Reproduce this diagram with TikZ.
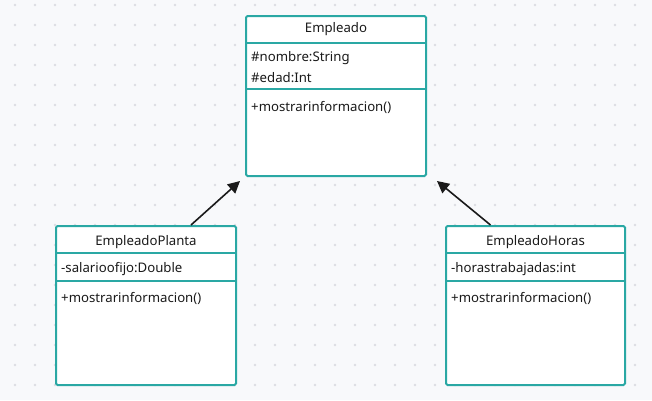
\documentclass[tikz,border=0pt]{standalone}
\usepackage{fontspec}
\setmainfont{Noto Sans}
\usetikzlibrary{calc,arrows.meta}
\definecolor{bgc}{HTML}{F8F9FB}
\definecolor{dotc}{HTML}{DCDDE2}
\definecolor{teal}{HTML}{2AA8A4}
\definecolor{ink}{HTML}{1A1A1A}
\tikzset{
  umlbox/.style={draw=teal, line width=2pt, fill=white, rounded corners=1.5pt, anchor=north west, inner sep=0pt},
  divider/.style={draw=teal, line width=2pt},
  title/.style={font=\fontsize{13.2}{15}\selectfont, text=ink, inner sep=0pt},
  member/.style={font=\fontsize{13.2}{15}\selectfont, text=ink, inner sep=0pt, anchor=west},
  inherit/.style={draw=ink, line width=1.6pt, -{Triangle[length=12pt,width=12pt]}}
}
\begin{document}
\begin{tikzpicture}[x=1pt,y=-1pt]
\fill[bgc] (0,0) rectangle (652,400);
\useasboundingbox (0,0) rectangle (652,400);
\foreach \i in {0,...,32}{
  \foreach \j in {0,...,19}{
    \fill[dotc] (15+20*\i,5+20*\j) circle (1.3);
  }
}
% Empleado
\node[umlbox, minimum width=180pt, minimum height=160pt] (emp) at (245,15) {};
\draw[divider] ($(emp.north west)+(0,28)$) -- ($(emp.north east)+(0,28)$);
\draw[divider] ($(emp.north west)+(0,74)$) -- ($(emp.north east)+(0,74)$);
\node[title] (empT) at ($(emp.north)+(0,14)$) {Empleado};
\node[member] (empA1) at ($(emp.north west)+(6,43)$) {\#nombre:String};
\node[member] (empA2) at ($(emp.north west)+(6,63)$) {\#edad:Int};
\node[member] (empM1) at ($(emp.north west)+(6,92)$) {+mostrarinformacion()};
% EmpleadoPlanta
\node[umlbox, minimum width=180pt, minimum height=159pt] (pla) at (55,225) {};
\draw[divider] ($(pla.north west)+(0,28)$) -- ($(pla.north east)+(0,28)$);
\draw[divider] ($(pla.north west)+(0,56)$) -- ($(pla.north east)+(0,56)$);
\node[title] (plaT) at ($(pla.north)+(0,17)$) {EmpleadoPlanta};
\node[member] (plaA1) at ($(pla.north west)+(6,44)$) {-salarioofijo:Double};
\node[member] (plaM1) at ($(pla.north west)+(6,73)$) {+mostrarinformacion()};
% EmpleadoHoras
\node[umlbox, minimum width=179pt, minimum height=159pt] (hor) at (445,225) {};
\draw[divider] ($(hor.north west)+(0,28)$) -- ($(hor.north east)+(0,28)$);
\draw[divider] ($(hor.north west)+(0,56)$) -- ($(hor.north east)+(0,56)$);
\node[title] (horT) at ($(hor.north)+(0,17)$) {EmpleadoHoras};
\node[member] (horA1) at ($(hor.north west)+(6,44)$) {-horastrabajadas:int};
\node[member] (horM1) at ($(hor.north west)+(6,73)$) {+mostrarinformacion()};
% inheritance
\coordinate (s1) at ($(pla.north)+(45,0)$);
\coordinate (e1) at ($(emp.south west)+(-5,4)$);
\coordinate (s2) at ($(hor.north)+(-45,0)$);
\coordinate (e2) at ($(emp.south east)+(10,4)$);
\draw[inherit] (s1) -- (e1);
\draw[inherit] (s2) -- (e2);
\end{tikzpicture}
\end{document}
